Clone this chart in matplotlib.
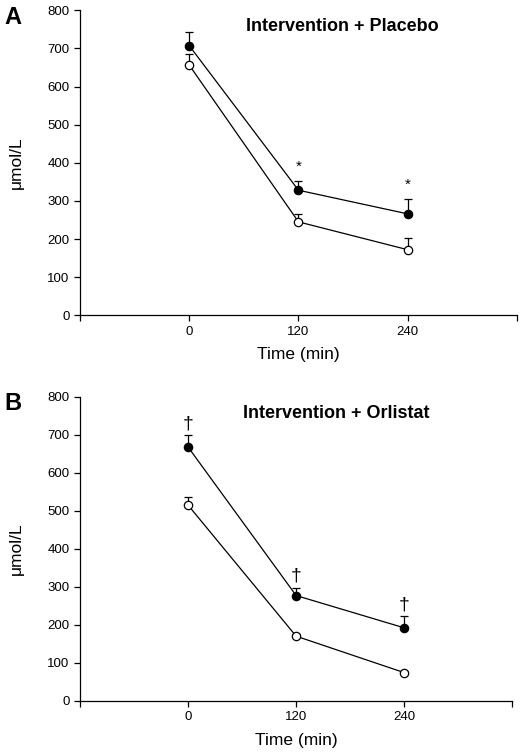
import matplotlib
matplotlib.use('Agg')
import matplotlib.pyplot as plt
import numpy as np

plt.rcParams['font.family'] = ['Liberation Sans', 'DejaVu Sans']

time_min = [0, 120, 240]
xtick_labels = ['', '0', '120', '240', '']

# panel A: intervention + placebo
a_filled = [707, 328, 266]
a_filled_err = [35, 24, 38]
a_open = [656, 245, 172]
a_open_err = [30, 20, 30]
a_marks = ['', '*', '*']

# panel B: intervention + orlistat
b_filled = [668, 277, 192]
b_filled_err = [31, 21, 31]
b_open = [515, 170, 74]
b_open_err = [21, 6, 5]
b_marks = ['\u2020', '\u2020', '\u2020']

panels = [
    ('A', 'Intervention + Placebo', a_filled, a_filled_err, a_open, a_open_err, a_marks),
    ('B', 'Intervention + Orlistat', b_filled, b_filled_err, b_open, b_open_err, b_marks),
]
boxes = [[0.154, 0.5824, 0.840, 0.404], [0.154, 0.0719, 0.831, 0.4023]]
title_xy = [(0.60, 0.976), (0.593, 0.974)]

fig = plt.figure(figsize=(5.2, 7.55), dpi=100)

for (letter, title, yf, ef, yo, eo, marks), box, txy in zip(panels, boxes, title_xy):
    ax = fig.add_axes(box)
    for y, e, face in [(yo, eo, 'white'), (yf, ef, 'black')]:
        ax.errorbar(time_min, y, yerr=[np.zeros(len(e)), e], fmt='none',
                    ecolor='black', elinewidth=0.9, capsize=3, capthick=0.9, zorder=2)
        ax.plot(time_min, y, '-', color='black', lw=0.9, marker='o', ms=6,
                mfc=face, mec='black', mew=0.9, zorder=3)
    for t, y, e, m in zip(time_min, yf, ef, marks):
        if m == '*':
            ax.text(t, y + e + 20, m, ha='center', va='bottom', fontsize=11)
        elif m:
            ax.text(t, y + e + 8, m, ha='center', va='bottom', fontsize=14)

    ax.set_xlim(-120, 360)
    ax.set_ylim(0, 800)
    ax.set_xticks([-120, 0, 120, 240, 360])
    ax.set_xticklabels(xtick_labels)
    ax.set_yticks(np.arange(0, 801, 100))
    ax.tick_params(direction='out', length=4, width=0.9, labelsize=9.5)
    for s in ['top', 'right']:
        ax.spines[s].set_visible(False)
    for s in ['left', 'bottom']:
        ax.spines[s].set_linewidth(0.9)
    ax.set_xlabel('Time (min)', fontsize=12.5, labelpad=7)
    ax.set_ylabel('\u03bcmol/L', fontsize=12.5, labelpad=17)
    ax.text(txy[0], txy[1], title, transform=ax.transAxes, ha='center', va='top',
            fontsize=13, fontweight='bold')
    pos = ax.get_position()
    fig.text(0.008, pos.y1 + 0.006, letter, ha='left', va='top',
             fontsize=17, fontweight='bold')

fig.savefig('out.png', dpi=100)
